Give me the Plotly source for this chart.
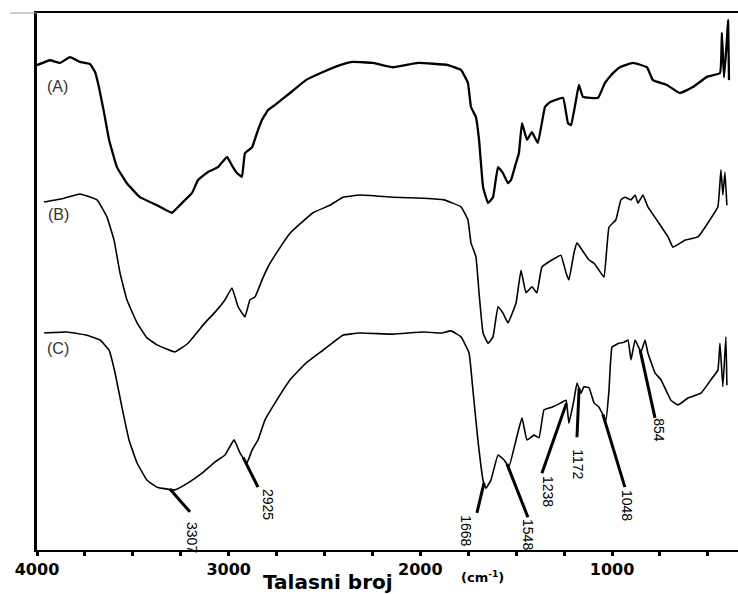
import numpy as np
import plotly.graph_objects as go

# FTIR spectra, wavenumber (cm-1) vs. transmittance (a.u.)
wn_a = [4000, 3932, 3880, 3828, 3776, 3724, 3697, 3677, 3650, 3624, 3583, 3531, 3463, 3374,
        3296, 3244, 3191, 3160, 3108, 3056, 3009, 2978, 2957, 2931, 2915, 2878, 2852, 2826,
        2795, 2758, 2680, 2597, 2508, 2419, 2352, 2247, 2143, 2012, 1856, 1788, 1752, 1736,
        1710, 1694, 1673, 1647, 1621, 1595, 1569, 1543, 1527, 1501, 1486, 1470, 1444, 1418,
        1387, 1350, 1324, 1256, 1230, 1214, 1188, 1173, 1152, 1073, 1037, 995, 959, 891, 818,
        787, 714, 646, 578, 505, 437, 427, 416, 401, 395, 390]
t_a = [90.3, 91.2, 90.7, 91.8, 90.9, 90.5, 89.0, 86.2, 81.4, 76.4, 71.3, 68.3, 65.7, 64.2,
       62.8, 64.6, 66.5, 68.9, 70.4, 71.3, 73.2, 71.3, 70.2, 69.5, 73.9, 75.0, 77.7, 80.1,
       81.9, 82.9, 85.1, 87.5, 89.0, 90.3, 90.9, 90.7, 89.9, 90.7, 90.3, 89.4, 87.0, 82.5,
       80.6, 76.4, 67.6, 64.6, 65.7, 71.3, 70.2, 68.3, 68.9, 72.1, 73.9, 79.5, 76.4, 77.8,
       75.8, 82.5, 83.4, 84.2, 79.5, 79.1, 83.8, 86.6, 84.4, 84.2, 87.0, 88.8, 89.9, 90.7, 89.9,
       87.5, 86.6, 85.1, 86.2, 88.1, 88.8, 96.3, 88.0, 95.0, 98.7, 87.5]

wn_b = [3963, 3859, 3776, 3687, 3635, 3598, 3567, 3531, 3478, 3426, 3374, 3280, 3212, 3124,
        3071, 3019, 2983, 2951, 2915, 2889, 2863, 2826, 2795, 2758, 2680, 2560, 2472, 2404,
        2315, 2143, 1981, 1877, 1788, 1752, 1736, 1710, 1694, 1673, 1647, 1621, 1595, 1569,
        1543, 1501, 1475, 1449, 1418, 1392, 1366, 1314, 1267, 1240, 1225, 1199, 1183, 1157,
        1120, 1094, 1068, 1042, 1016, 980, 954, 933, 901, 880, 865, 839, 813, 760, 708, 682,
        620, 552, 500, 448, 432, 422, 411, 401]
t_b = [64.8, 65.5, 66.3, 65.2, 62.0, 57.7, 51.6, 46.6, 42.3, 39.5, 38.2, 36.9, 38.5, 42.3,
       44.3, 46.6, 48.8, 45.3, 43.4, 46.6, 47.1, 50.3, 52.7, 54.9, 59.0, 62.8, 64.2, 65.7,
       66.1, 65.7, 65.5, 65.2, 63.9, 61.5, 57.2, 54.6, 47.9, 40.4, 38.5, 39.7, 45.3, 44.1,
       42.3, 46.0, 52.1, 47.9, 49.0, 47.9, 52.7, 54.0, 54.9, 51.6, 50.3, 55.3, 57.2, 55.9,
       54.0, 53.4, 52.1, 50.8, 60.1, 61.5, 65.2, 65.7, 65.2, 66.1, 64.6, 66.1, 63.9, 61.1,
       58.3, 56.4, 57.7, 58.3, 60.9, 63.9, 70.8, 66.1, 70.4, 64.2]

wn_c = [3963, 3844, 3739, 3671, 3624, 3593, 3557, 3520, 3478, 3426, 3374, 3280, 3212, 3139,
        3071, 3019, 2972, 2941, 2905, 2878, 2847, 2811, 2758, 2680, 2597, 2508, 2404, 2315,
        2143, 1981, 1893, 1840, 1788, 1746, 1726, 1700, 1673, 1658, 1632, 1595, 1564, 1538,
        1501, 1470, 1444, 1407, 1381, 1355, 1314, 1267, 1240, 1225, 1199, 1183, 1162, 1147,
        1120, 1094, 1068, 1032, 1016, 1000, 964, 938, 917, 901, 880, 849, 828, 813, 776, 745,
        693, 656, 604, 536, 484, 448, 437, 422, 406, 401]
t_c = [40.4, 40.6, 40.0, 39.1, 37.2, 33.0, 26.6, 20.5, 16.2, 13.0, 11.7, 11.2, 12.5, 14.3,
       16.4, 17.7, 20.5, 18.1, 16.2, 18.6, 20.5, 24.2, 27.4, 31.7, 34.8, 37.2, 40.0, 40.4,
       40.2, 40.6, 40.4, 40.8, 39.7, 36.7, 29.8, 20.5, 13.0, 11.5, 13.0, 17.7, 16.8, 15.5,
       20.5, 24.6, 20.5, 21.4, 20.9, 26.1, 26.6, 27.4, 27.9, 23.6, 27.9, 31.1, 29.2, 30.4,
       30.2, 27.4, 26.6, 24.2, 29.8, 37.8, 38.5, 38.7, 39.1, 35.4, 39.1, 36.9, 39.1, 36.7,
       33.0, 31.7, 27.9, 27.0, 28.3, 29.2, 31.7, 33.5, 38.5, 30.4, 39.7, 30.7]

# Assigned band positions marked on spectrum (C)
peak_wn = [3307, 2925, 1668, 1548, 1238, 1172, 1048, 854]
peak_text = ["3307", "2925", "1668", "1548", "1238", "1172", "1048", "854"]

tick_vals = [4000, 3000, 2000, 1000]
tick_text = ["4000", "3000", "2000", "1000"]

# Leader geometry: lower end of each leader and label centre (wavenumber, T)
leader_end = [(3202, 7.1), (2847, 11.7), (1705, 6.9), (1439, 6.1),
              (1366, 14.3), (1183, 21.0), (933, 11.7), (776, 24.6)]
label_pos = [(3191, 2.4), (2795, 8.4), (1762, 3.7), (1439, 2.8),
             (1334, 11.0), (1178, 16.0), (922, 8.4), (755, 22.3)]

fig = go.Figure()
for wn, t, w in [(wn_a, t_a, 2.3), (wn_b, t_b, 1.6), (wn_c, t_c, 1.6)]:
    fig.add_trace(go.Scatter(x=wn, y=t, mode="lines",
                             line=dict(color="black", width=w, shape="spline", smoothing=0.3),
                             showlegend=False, hoverinfo="skip"))

# Curve C sampled at each band for the leader's upper end
c_x = np.array(wn_c[::-1], dtype=float)
c_y = np.array(t_c[::-1], dtype=float)
peak_t = np.interp(peak_wn, c_x, c_y)

shapes = []
annotations = []
for p, pt, (ex, ey), (lx, ly), txt in zip(peak_wn, peak_t, leader_end, label_pos, peak_text):
    shapes.append(dict(type="line", xref="x", yref="y", x0=p, y0=pt, x1=ex, y1=ey,
                       line=dict(color="black", width=3)))
    annotations.append(dict(x=lx, y=ly, xref="x", yref="y", text=txt, showarrow=False,
                            textangle=90, xanchor="center", yanchor="middle",
                            font=dict(family="Liberation Sans Narrow, Arial Narrow, Liberation Sans",
                                      size=14, color="black")))

# Spectrum labels
for txt, (lx, ly) in zip(["(A)", "(B)", "(C)"], [(3893, 86.4), (3890, 62.4), (3890, 37.6)]):
    annotations.append(dict(x=lx, y=ly, xref="x", yref="y", text=txt, showarrow=False,
                            xanchor="center", yanchor="middle",
                            font=dict(family="Liberation Sans", size=16, color="#333333")))

# Axis title
annotations.append(dict(x=0.415, y=-0.06, xref="paper", yref="paper", text="Talasni broj",
                        showarrow=False, xanchor="center", yanchor="middle",
                        font=dict(family="DejaVu Sans", size=20, color="black", weight="bold")))
annotations.append(dict(x=0.635, y=-0.05, xref="paper", yref="paper",
                        text="(cm<sup>-1</sup>)", showarrow=False,
                        xanchor="center", yanchor="middle",
                        font=dict(family="DejaVu Sans", size=13, color="black", weight="bold")))

# Short grey rule left of the top frame
shapes.append(dict(type="line", xref="paper", yref="paper", x0=-0.0385, x1=0, y0=1, y1=1,
                   line=dict(color="#999999", width=1)))

fig.update_layout(
    width=738, height=594,
    margin=dict(l=37, r=0, t=13, b=44),
    paper_bgcolor="white", plot_bgcolor="white",
    shapes=shapes, annotations=annotations,
    xaxis=dict(range=[4000, 343], showgrid=False, zeroline=False,
               showline=True, linecolor="black", linewidth=2, mirror=True,
               tickvals=tick_vals, ticktext=tick_text,
               ticks="outside", ticklen=4, tickwidth=3, tickcolor="black",
               minor=dict(dtick=250, tick0=4000, ticks="outside", ticklen=4,
                          tickwidth=3, tickcolor="black", showgrid=False),
               tickfont=dict(family="DejaVu Sans", size=16, color="black", weight="bold")),
    yaxis=dict(range=[0, 100], showgrid=False, zeroline=False,
               showline=True, linecolor="black", linewidth=3,
               showticklabels=False, ticks=""),
)

fig.write_html("out.html")
